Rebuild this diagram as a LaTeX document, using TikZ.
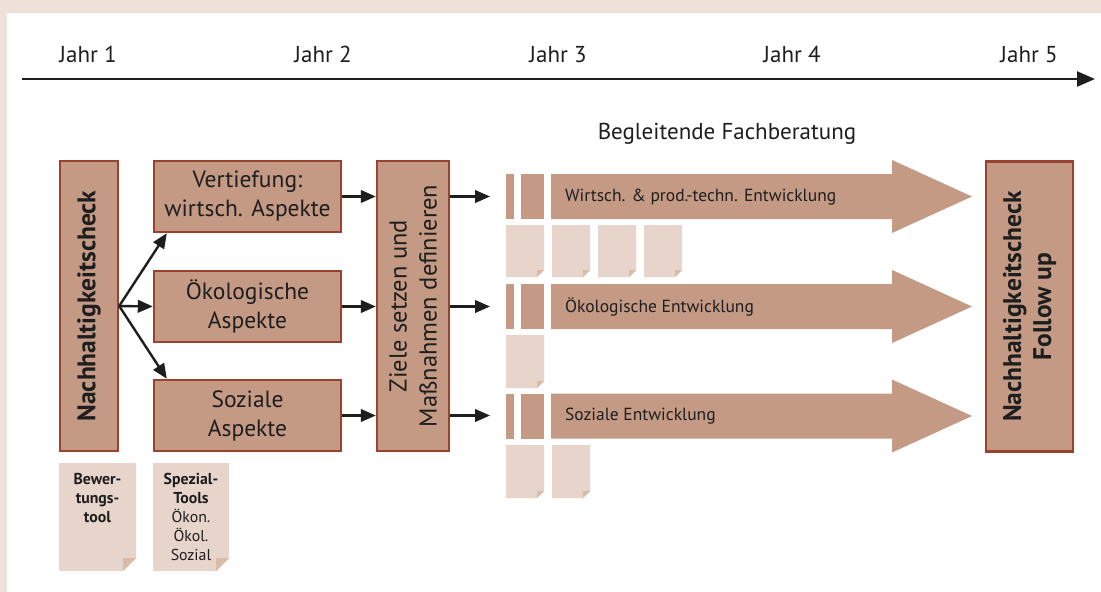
\documentclass[tikz,border=0pt]{standalone}
\usepackage{fontspec}
\setmainfont{PT Sans}
\usetikzlibrary{arrows.meta,calc}
\definecolor{boxfill}{HTML}{C49A84}
\definecolor{boxline}{HTML}{984330}
\definecolor{sheetc}{HTML}{E7D4CA}
\definecolor{foldc}{HTML}{D8BBA9}
\definecolor{framec}{HTML}{EDE1D9}
\definecolor{ink}{HTML}{1E1E1E}
\newcommand\docsheet[5]{%
  \fill[sheetc] (#1,#2) -- (#3,#2) -- (#3,#4-#5) -- (#3-#5,#4) -- (#1,#4) -- cycle;
  \fill[foldc] (#3,#4-#5) -- (#3-#5,#4) -- (#3-#5,#4-#5) -- cycle;}
\newcommand\devbar[1]{%
  \fill[boxfill] (506,#1-22.5) rectangle (514,#1+22.5);
  \fill[boxfill] (521,#1-22.5) rectangle (544,#1+22.5);
  \fill[boxfill] (551,#1-22.5) -- (892,#1-22.5) -- (892,#1-36.5) -- (972,#1)
     -- (892,#1+36.5) -- (892,#1+22.5) -- (551,#1+22.5) -- cycle;}
\begin{document}
\begin{tikzpicture}[x=1pt,y=-1pt,
  box/.style={draw=boxline, line width=2.4pt, fill=boxfill, inner sep=0pt},
  boxtext/.style={align=center, text=ink, inner sep=0pt, font=\fontsize{23.5}{29}\selectfont},
  vtext/.style={align=center, text=ink, inner sep=0pt, rotate=90, font=\fontsize{24.5}{30}\selectfont},
  vbold/.style={vtext, font=\fontsize{25.5}{30}\selectfont\bfseries},
  conn/.style={draw=ink, line width=2.4pt, -{Triangle[length=15pt,width=12.5pt]}},
  timeline/.style={draw=ink, line width=2.4pt, -{Triangle[length=18pt,width=15pt]}},
  yearlbl/.style={text=ink, inner sep=0pt, anchor=base, font=\fontsize{23}{27}\selectfont},
  bartext/.style={text=ink, inner sep=0pt, anchor=west, font=\fontsize{17.5}{20}\selectfont},
  sheettext/.style={text=ink, inner sep=0pt, align=center, anchor=north, font=\fontsize{15.8}{19}\selectfont}]
\useasboundingbox (0,0) rectangle (1101,592);
\fill[framec] (0,0) rectangle (1101,592);
\fill[white] (7,13) rectangle (1101,592);

% timeline
\coordinate (tl0) at (22,79);
\coordinate (tl1) at (1095,79);
\draw[timeline] (tl0) -- (tl1);
\node[yearlbl] (j1) at (88,62) {Jahr 1};
\node[yearlbl] (j2) at (323,62) {Jahr 2};
\node[yearlbl] (j3) at (558,62) {Jahr 3};
\node[yearlbl] (j4) at (792,62) {Jahr 4};
\node[yearlbl] (j5) at (1029,62) {Jahr 5};

\node[yearlbl] (fach) at (727,139) {Begleitende Fachberatung};

% development bars
\devbar{196.5}
\devbar{306.5}
\devbar{416}
\node[bartext] (b1) at (565,197) {Wirtsch. \& prod.-techn. Entwicklung};
\node[bartext] (b2) at (565,307) {Ökologische Entwicklung};
\node[bartext] (b3) at (565,416) {Soziale Entwicklung};

% small sheets
\docsheet{506}{225}{544}{277}{7}
\docsheet{552}{225}{590}{277}{7}
\docsheet{598}{225}{636}{277}{7}
\docsheet{644}{225}{682}{277}{7}
\docsheet{506}{335}{544}{388}{7}
\docsheet{506}{445}{544}{498}{7}
\docsheet{552}{445}{590}{498}{7}

% main boxes
\node[box, minimum width=58, minimum height=290] (nc) at (89,306) {};
\node[vbold] (nct) at (nc.center) {Nachhaltigkeitscheck};
\node[box, minimum width=187, minimum height=71] (v) at (247.5,196.5) {};
\node[boxtext] (vt) at (v.center) {Vertiefung:\\wirtsch. Aspekte};
\node[box, minimum width=187, minimum height=71] (o) at (247.5,306.5) {};
\node[boxtext] (ot) at (o.center) {Ökologische\\Aspekte};
\node[box, minimum width=187, minimum height=71] (s) at (247.5,415.5) {};
\node[boxtext] (st) at (s.center) {Soziale\\Aspekte};
\node[box, minimum width=72, minimum height=290] (z) at (413,306) {};
\node[vtext] (zt) at (z.center) {Ziele setzen und\\Maßnahmen definieren};
\node[box, minimum width=87, minimum height=290] (f) at (1029.5,306.5) {};
\node[vbold] (ft) at (f.center) {Nachhaltigkeitscheck\\Follow up};

% connectors
\draw[conn] (nc.east) -- ($(v.south west)+(14,0)$);
\draw[conn] (nc.east) -- (o.west);
\draw[conn] (nc.east) -- ($(s.north west)+(14,0)$);
\draw[conn] (v.east) -- (v.east -| z.west);
\draw[conn] (o.east) -- (o.east -| z.west);
\draw[conn] (s.east) -- (s.east -| z.west);
\coordinate (r1) at (490,196.5);
\coordinate (r2) at (490,306.5);
\coordinate (r3) at (490,415.5);
\draw[conn] (v.east -| z.east) -- (r1);
\draw[conn] (o.east -| z.east) -- (r2);
\draw[conn] (s.east -| z.east) -- (r3);

% tool sheets
\docsheet{59}{463}{136}{571}{13}
\docsheet{153}{463}{229}{571}{13}
\node[sheettext] (bt) at (97.5,473) {\textbf{Bewer-}\\\textbf{tungs-}\\\textbf{tool}};
\node[sheettext] (spt) at (191,473) {\textbf{Spezial-}\\\textbf{Tools}\\Ökon.\\Ökol.\\Sozial};
\end{tikzpicture}
\end{document}
